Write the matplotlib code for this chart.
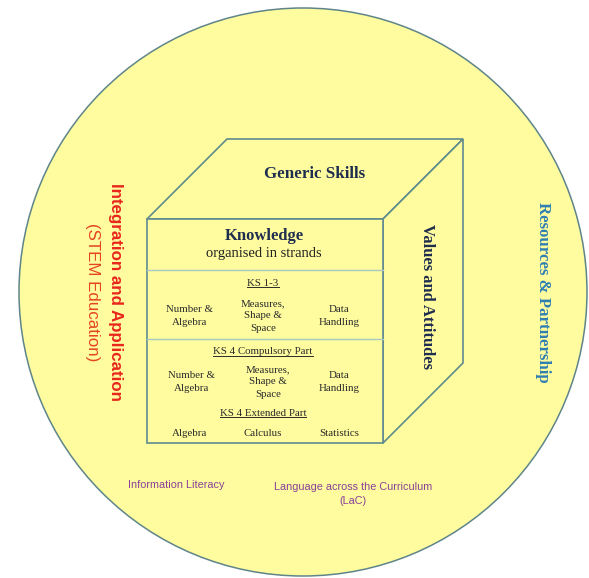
import matplotlib
matplotlib.use("Agg")
import matplotlib.pyplot as plt
from matplotlib.patches import Circle, Polygon

# labels of the curriculum framework diagram
outer_left = ["Integration and Application", "(STEM Education)"]
outer_right = "Resources & Partnership"
outer_bottom = ["Information Literacy", "Language across the Curriculum\n(LaC)"]
top_face = "Generic Skills"
side_face = "Values and Attitudes"
front_title = ["Knowledge", "organised in strands"]
stage_titles = ["KS 1-3", "KS 4 Compulsory Part", "KS 4 Extended Part"]
stage_strands = [
    ["Number &\nAlgebra", "Measures,\nShape &\nSpace", "Data\nHandling"],
    ["Number &\nAlgebra", "Measures,\nShape &\nSpace", "Data\nHandling"],
    ["Algebra", "Calculus", "Statistics"],
]

W, H = 589, 578
fig = plt.figure(figsize=(W / 100, H / 100), dpi=100)
ax = fig.add_axes([0, 0, 1, 1])
ax.set_xlim(0, W)
ax.set_ylim(H, 0)
ax.axis("off")

yellow = "#fefc9f"
edge = "#5f8a8e"
serif = "Liberation Serif"
sans = "Liberation Sans"

ax.add_patch(Circle((303, 292), 284, facecolor=yellow, edgecolor="#5f8589", lw=1.1))

# cube: front face and depth offset
fx0, fy0, fx1, fy1 = 147, 219, 383, 443
d = 80
ax.add_patch(Polygon([(fx0, fy0), (fx0 + d, fy0 - d), (fx1 + d, fy0 - d), (fx1, fy0)],
                     closed=True, facecolor=yellow, edgecolor=edge, lw=1.2))
ax.add_patch(Polygon([(fx1, fy0), (fx1 + d, fy0 - d), (fx1 + d, fy1 - d), (fx1, fy1)],
                     closed=True, facecolor=yellow, edgecolor=edge, lw=1.2))
ax.add_patch(Polygon([(fx0, fy0), (fx1, fy0), (fx1, fy1), (fx0, fy1)],
                     closed=True, facecolor=yellow, edgecolor=edge, lw=1.2))
for yy in (270, 339):
    ax.plot([fx0, fx1], [yy, yy], color="#a9c8c4", lw=1.0)

navy = "#1f2d4e"
ax.text(315, 174, top_face, family=serif, weight="bold", fontsize=12.2, color=navy,
        ha="center", va="center")
ax.text(427, 296, side_face, family=serif, weight="bold", fontsize=11.9, color=navy,
        ha="center", va="center", rotation=-90)
ax.text(264, 236, front_title[0], family=serif, weight="bold", fontsize=12, color=navy,
        ha="center", va="center")
ax.text(264, 254, front_title[1], family=serif, fontsize=10.5, color="#222222",
        ha="center", va="center")

dark = "#2a2a2a"
title_y = [283, 352, 413]
strand_y = [316, 382, 434]
strand_x = [[190, 263, 339], [192, 268, 339], [190, 263, 339]]
heads = []
for k, title in enumerate(stage_titles):
    t = ax.text(263, title_y[k], title, family=serif, fontsize=7.8, color=dark,
                ha="center", va="center")
    heads.append(t)
    for j, s in enumerate(stage_strands[k]):
        ax.text(strand_x[k][j], strand_y[k], s, family=serif, fontsize=7.8, color=dark,
                ha="center", va="center", linespacing=1.45)

# outer ring labels
ax.text(115, 292, outer_left[0], family=sans, weight="bold", fontsize=12.2,
        color="#e8261c", ha="center", va="center", rotation=-90)
ax.text(92, 292, outer_left[1], family=sans, fontsize=12.2,
        color="#e4451f", ha="center", va="center", rotation=-90)
ax.text(543, 292, outer_right, family=serif, weight="bold", fontsize=12.1,
        color="#2f7fb2", ha="center", va="center", rotation=-90)
purple = "#8a3f98"
ax.text(176, 485, outer_bottom[0], family=sans, fontsize=7.8, color=purple,
        ha="center", va="center")
ax.text(353, 494, outer_bottom[1], family=sans, fontsize=7.8, color=purple,
        ha="center", va="center", linespacing=1.6)

# underline the key stage headings
fig.canvas.draw()
inv = ax.transData.inverted()
for t in heads:
    bb = t.get_window_extent()
    (x0, y0), (x1, y1) = inv.transform([(bb.x0, bb.y0), (bb.x1, bb.y1)])
    ax.plot([x0, x1], [y0 - 0.5, y0 - 0.5], color=dark, lw=0.7)

fig.savefig("out.png", dpi=100, facecolor="white")
